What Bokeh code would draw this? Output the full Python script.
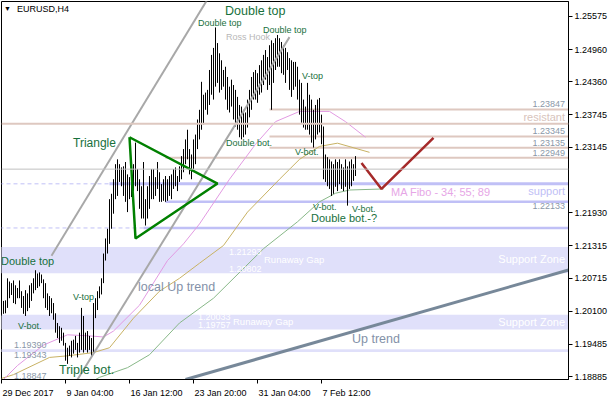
from bokeh.plotting import figure
from bokeh.models import Range1d, FixedTicker, PrintfTickFormatter, Label, Span, LinearAxis
from bokeh.embed import file_html
from bokeh.resources import INLINE

# ---- EURUSD H4 price bars (high / low) ----
bar_high = [
    1.2034, 1.2029, 1.2030, 1.2071, 1.2065, 1.2062, 1.2067, 1.2058, 1.2053, 1.2067,
    1.2047, 1.2038, 1.2049, 1.2043, 1.2058, 1.2062, 1.2071, 1.2086, 1.2080, 1.2082,
    1.2078, 1.2069, 1.2062, 1.2043, 1.2038, 1.2034, 1.2025, 1.2006, 1.1988, 1.1982,
    1.1979, 1.1970, 1.1951, 1.1942, 1.1946, 1.1955, 1.1957, 1.1964, 1.1951, 1.1970,
    1.2016, 1.2001, 1.1970, 1.1973, 1.1964, 1.1960, 1.2025, 1.2034, 1.2047, 1.2056,
    1.2071, 1.2117, 1.2145, 1.2163, 1.2218, 1.2228, 1.2255, 1.2283, 1.2292, 1.2283,
    1.2277, 1.2279, 1.2287, 1.2264, 1.2259, 1.2270, 1.2283, 1.2323, 1.2274, 1.2255,
    1.2242, 1.2287, 1.2218, 1.2242, 1.2261, 1.2274, 1.2274, 1.2259, 1.2287, 1.2268,
    1.2246, 1.2255, 1.2261, 1.2255, 1.2261, 1.2264, 1.2274, 1.2277, 1.2261, 1.2279,
    1.2298, 1.2311, 1.2329, 1.2347, 1.2311, 1.2301, 1.2329, 1.2338, 1.2366, 1.2384,
    1.2436, 1.2412, 1.2416, 1.2421, 1.2458, 1.2486, 1.2499, 1.2537, 1.2508, 1.2489,
    1.2476, 1.2458, 1.2464, 1.2445, 1.2427, 1.2440, 1.2430, 1.2421, 1.2408, 1.2393,
    1.2390, 1.2384, 1.2379, 1.2403, 1.2421, 1.2445, 1.2454, 1.2458, 1.2452, 1.2467,
    1.2476, 1.2486, 1.2495, 1.2482, 1.2504, 1.2513, 1.2508, 1.2517, 1.2523, 1.2517,
    1.2510, 1.2504, 1.2499, 1.2491, 1.2480, 1.2476, 1.2473, 1.2473, 1.2464, 1.2440,
    1.2434, 1.2403, 1.2390, 1.2434, 1.2412, 1.2403, 1.2384, 1.2393, 1.2403, 1.2406,
    1.2375, 1.2353, 1.2301, 1.2296, 1.2292, 1.2288, 1.2283, 1.2292, 1.2287, 1.2292,
    1.2283, 1.2277, 1.2292, 1.2279, 1.2288, 1.2292, 1.2283, 1.2298,
]
bar_low = [
    1.2001, 1.2005, 1.2006, 1.2016, 1.2034, 1.2040, 1.2025, 1.2023, 1.2034, 1.2034,
    1.2016, 1.2005, 1.2001, 1.2010, 1.2016, 1.2029, 1.2043, 1.2049, 1.2053, 1.2056,
    1.2062, 1.2034, 1.2016, 1.2012, 1.2001, 1.2006, 1.1994, 1.1970, 1.1960, 1.1951,
    1.1955, 1.1946, 1.1918, 1.1912, 1.1927, 1.1924, 1.1931, 1.1938, 1.1924, 1.1933,
    1.1938, 1.1933, 1.1938, 1.1933, 1.1938, 1.1927, 1.1933, 1.1997, 1.2012, 1.2034,
    1.2041, 1.2062, 1.2104, 1.2117, 1.2135, 1.2163, 1.2191, 1.2218, 1.2224, 1.2250,
    1.2242, 1.2224, 1.2213, 1.2194, 1.2218, 1.2222, 1.2233, 1.2242, 1.2233, 1.2200,
    1.2182, 1.2182, 1.2169, 1.2182, 1.2200, 1.2218, 1.2218, 1.2224, 1.2237, 1.2213,
    1.2213, 1.2215, 1.2213, 1.2215, 1.2224, 1.2218, 1.2237, 1.2242, 1.2233, 1.2250,
    1.2255, 1.2268, 1.2283, 1.2292, 1.2264, 1.2255, 1.2274, 1.2283, 1.2311, 1.2329,
    1.2347, 1.2357, 1.2384, 1.2375, 1.2393, 1.2412, 1.2403, 1.2427, 1.2434, 1.2416,
    1.2421, 1.2427, 1.2403, 1.2384, 1.2379, 1.2390, 1.2366, 1.2353, 1.2347, 1.2333,
    1.2329, 1.2333, 1.2338, 1.2351, 1.2370, 1.2384, 1.2403, 1.2403, 1.2397, 1.2412,
    1.2416, 1.2430, 1.2440, 1.2421, 1.2430, 1.2384, 1.2434, 1.2458, 1.2464, 1.2464,
    1.2452, 1.2449, 1.2434, 1.2458, 1.2421, 1.2408, 1.2421, 1.2427, 1.2403, 1.2375,
    1.2360, 1.2351, 1.2347, 1.2347, 1.2338, 1.2323, 1.2314, 1.2329, 1.2338, 1.2342,
    1.2320, 1.2255, 1.2250, 1.2242, 1.2237, 1.2224, 1.2228, 1.2241, 1.2233, 1.2246,
    1.2237, 1.2233, 1.2241, 1.2206, 1.2237, 1.2242, 1.2252, 1.2261,
]
bar_idx = list(range(len(bar_high)))

# time axis
tick_bars = [0, 32, 64, 96, 128, 160]
tick_labels = ["29 Dec 2017", "9 Jan 04:00", "16 Jan 12:00", "23 Jan 20:00", "31 Jan 04:00", "7 Feb 12:00"]

# price axis
price_ticks = [1.18885, 1.19485, 1.20100, 1.20715, 1.21315, 1.21930,
               1.23145, 1.23745, 1.24360, 1.24960, 1.25575]

# moving averages (Fibonacci periods), sampled at bar positions
ma34_bar = [1, 8, 21, 33, 44, 51, 56, 69, 83, 91, 99, 114, 127, 137, 149, 164, 172, 182]
ma34_val = [1.1883, 1.1909, 1.1947, 1.1966, 1.1964, 1.1962, 1.1973, 1.2021, 1.2104, 1.2135,
            1.2172, 1.2255, 1.2320, 1.2362, 1.2381, 1.2381, 1.2362, 1.2333]
ma55_bar = [0, 6, 24, 33, 46, 54, 66, 79, 89, 99, 111, 123, 139, 149, 159, 168, 184]
ma55_val = [1.1885, 1.1892, 1.1924, 1.1927, 1.1933, 1.1942, 1.1997, 1.2047, 1.2071, 1.2099,
            1.2132, 1.2194, 1.2255, 1.2292, 1.2316, 1.2322, 1.2305]
ma89_bar = [45, 49, 63, 74, 89, 106, 131, 148, 159, 167, 174, 191]
ma89_val = [1.1879, 1.1887, 1.1905, 1.1929, 1.1988, 1.2034, 1.2126, 1.2176, 1.2213, 1.2229,
            1.2235, 1.2237]

# resistance levels and the bar each one starts from
resist_levels = [1.23847, 1.23345, 1.23135, 1.22949]
resist_from = [134, 134, 134, 82]
resist_main = 1.23580
# support levels
support_levels = [1.22465, 1.22133, 1.21645]
support_from = [54, 82, 71]
support_width = [3, 2.5, 2.5]
# support zones (top, bottom)
zone_top = [1.21293, 1.20033, 1.19390]
zone_bottom = [1.20802, 1.19757, 1.19343]
last_price = 1.22738

# drawn studies
tri_bar = [64, 108, 67, 64]
tri_val = [1.2333, 1.2247, 1.2145, 1.2333]
chan_a_bar = [25, 110]
chan_a_val = [1.2113, 1.2632]
chan_b_bar = [38, 144]
chan_b_val = [1.1883, 1.2519]
uptrend_bar = [92, 284]
uptrend_val = [1.1883, 1.2087]
proj_bar = [180, 190, 216]
proj_val = [1.2285, 1.2237, 1.2332]

GREEN = "#17703C"
GREY_TXT = "#8A98A8"
LAV = "#C0C0F6"
ROSE = "#DEC8C0"
FONT = "Liberation Sans"

X0 = 0.0
p = figure(width=610, height=400, output_backend="svg", toolbar_location=None,
           x_range=Range1d(X0, X0 + 283.5), y_range=Range1d(1.18830, 1.25852),
           y_axis_location="right", min_border_left=1, min_border_top=1,
           min_border_right=42, min_border_bottom=18)
p.xgrid.visible = False
p.ygrid.visible = False
p.outline_line_color = "black"
p.outline_line_width = 1
p.background_fill_color = "white"
p.border_fill_color = "white"

for ax in (p.xaxis[0], p.yaxis[0]):
    ax.axis_line_color = "black"
    ax.major_tick_line_color = "black"
    ax.major_tick_out = 4
    ax.major_tick_in = 0
    ax.minor_tick_line_color = None
    ax.major_label_text_font = FONT
    ax.major_label_text_font_size = "9px"
    ax.major_label_text_color = "black"
    ax.major_label_standoff = 2

# bottom axis carries only the tick marks
p.xaxis.ticker = FixedTicker(ticks=tick_bars)
p.xaxis.major_label_overrides = {b: " " for b in tick_bars}
p.xaxis.major_label_text_font_size = "1px"
p.xaxis.major_label_standoff = 0

# a second, line-less axis underneath holds the dates, each starting at its tick
half_widths = [13.25, 12.25, 13.5, 13.5, 13.5, 12.5]  # half label width, in bars
date_pos = [b + h for b, h in zip(tick_bars, half_widths)]
date_axis = LinearAxis(ticker=FixedTicker(ticks=date_pos),
                       major_label_overrides={d: t for d, t in zip(date_pos, tick_labels)},
                       axis_line_color=None, major_tick_line_color=None, minor_tick_line_color=None,
                       major_tick_out=0, major_tick_in=0, major_label_standoff=0,
                       major_label_text_font=FONT, major_label_text_font_size="9px",
                       major_label_text_color="black")
p.add_layout(date_axis, "below")

p.yaxis.ticker = FixedTicker(ticks=price_ticks)
p.yaxis.formatter = PrintfTickFormatter(format="%.5f")

XL, XR = -1, 284

# support zones
p.quad(left=XL, right=XR, top=zone_top, bottom=zone_bottom, fill_color="#E0E0FA", line_color=None)

# resistance lines
p.add_layout(Span(location=resist_main, dimension="width", line_color=ROSE, line_width=2))
p.segment(x0=resist_from, y0=resist_levels, x1=[XR] * len(resist_levels), y1=resist_levels,
          line_color=ROSE, line_width=2)

# support lines: dashed lead-in, then solid
p.segment(x0=[XL, XL], y0=[support_levels[0], support_levels[2]],
          x1=[support_from[0], support_from[2]], y1=[support_levels[0], support_levels[2]],
          line_color=LAV, line_width=1, line_dash="4 3")
p.segment(x0=support_from, y0=support_levels, x1=[XR] * 3, y1=support_levels,
          line_color=LAV, line_width=support_width)

# last price
p.add_layout(Span(location=last_price, dimension="width", line_color="#C0C0C0", line_width=1))

# moving averages
p.line(ma89_bar, ma89_val, line_color="#88B888", line_width=1)
p.line(ma55_bar, ma55_val, line_color="#C8B264", line_width=1)
p.line(ma34_bar, ma34_val, line_color="#E29AE2", line_width=1)

# price bars
p.segment(x0=bar_idx, y0=bar_low, x1=bar_idx, y1=bar_high, line_color="black", line_width=1)

# trend studies
p.line(uptrend_bar, uptrend_val, line_color="#778899", line_width=3)
p.line(chan_a_bar, chan_a_val, line_color="#A8A8A8", line_width=2)
p.line(chan_b_bar, chan_b_val, line_color="#A8A8A8", line_width=2)
p.line(tri_bar, tri_val, line_color="#008000", line_width=2.5)
p.line(proj_bar, proj_val, line_color="#A52A2A", line_width=2.5)


def note(x, y, text, size="9px", color=GREEN, align="left", **kw):
    p.add_layout(Label(x=x, y=y, text=text, text_font=FONT, text_font_size=size,
                       text_color=color, text_align=align, text_baseline="middle", **kw))


note(111.75, 1.2567, "Double top", "12.5px")
note(98.25, 1.2546, "Double top")
note(112.25, 1.2520, "Ross Hook", color="#B8B8B8")
note(130.75, 1.2533, "Double top")
note(150.25, 1.2447, "V-top")
note(112.25, 1.2323, "Double bot.")
note(35.75, 1.2323, "Triangle", "12px")
note(146.75, 1.2306, "V-bot.")
note(155.75, 1.2204, "V-bot.")
note(175.25, 1.2200, "V-bot.")
note(154.75, 1.2183, "Double bot.-?", "11px")
note(-0.25, 1.2104, "Double top", "11px")
note(35.75, 1.2037, "V-top")
note(8.25, 1.1983, "V-bot.")
note(28.75, 1.1901, "Triple bot.", "12.5px")
note(68.25, 1.2054, "local Up trend", "12.5px", "#8391A8")
note(175.25, 1.1959, "Up trend", "12.5px", "#8391A8")
note(194.75, 1.2231, "MA Fibo - 34; 55; 89", "11px", "#E6A6E6")
note(281.75, 1.2233, "support", "11px", LAV, "right")
note(281.75, 1.2371, "resistant", "11px", "#D8C4BC", "right")
note(281.75, 1.2106, "Support Zone", "11px", "white", "right")
note(281.75, 1.1990, "Support Zone", "11px", "white", "right")
note(131.25, 1.2106, "Runaway Gap", "9.5px", "white")
note(115.75, 1.1991, "Runaway Gap", "9.5px", "white")
note(113.75, 1.2119, "1.21293", color="white")
note(113.75, 1.2088, "1.20802", color="white")
note(98.25, 1.1999, "1.20033", color="white")
note(98.25, 1.1984, "1.19757", color="white")
note(6.25, 1.1947, "1.19390", color=GREY_TXT)
note(6.25, 1.1929, "1.19343", color=GREY_TXT)
note(6.25, 1.1890, "1.18847", color=GREY_TXT)
note(281.75, 1.2395, "1.23847", color=GREY_TXT, align="right")
note(281.75, 1.2345, "1.23345", color=GREY_TXT, align="right")
note(281.75, 1.2322, "1.23135", color=GREY_TXT, align="right")
note(281.75, 1.2303, "1.22949", color=GREY_TXT, align="right")
note(281.75, 1.2206, "1.22133", color=GREY_TXT, align="right")
note(7.75, 1.2572, "EURUSD,H4", color="black")
note(1.25, 1.2573, "\u25bc", "7px", "black")

# highlighted prices on the price scale
for price, bg in [(resist_main, ROSE), (last_price, "black"),
                  (support_levels[0], LAV), (support_levels[2], LAV)]:
    note(285.75, price, "%.5f" % price, "9px", "white", "left",
         background_fill_color=bg, padding=2)

open("out.html", "w").write(file_html(p, INLINE))
